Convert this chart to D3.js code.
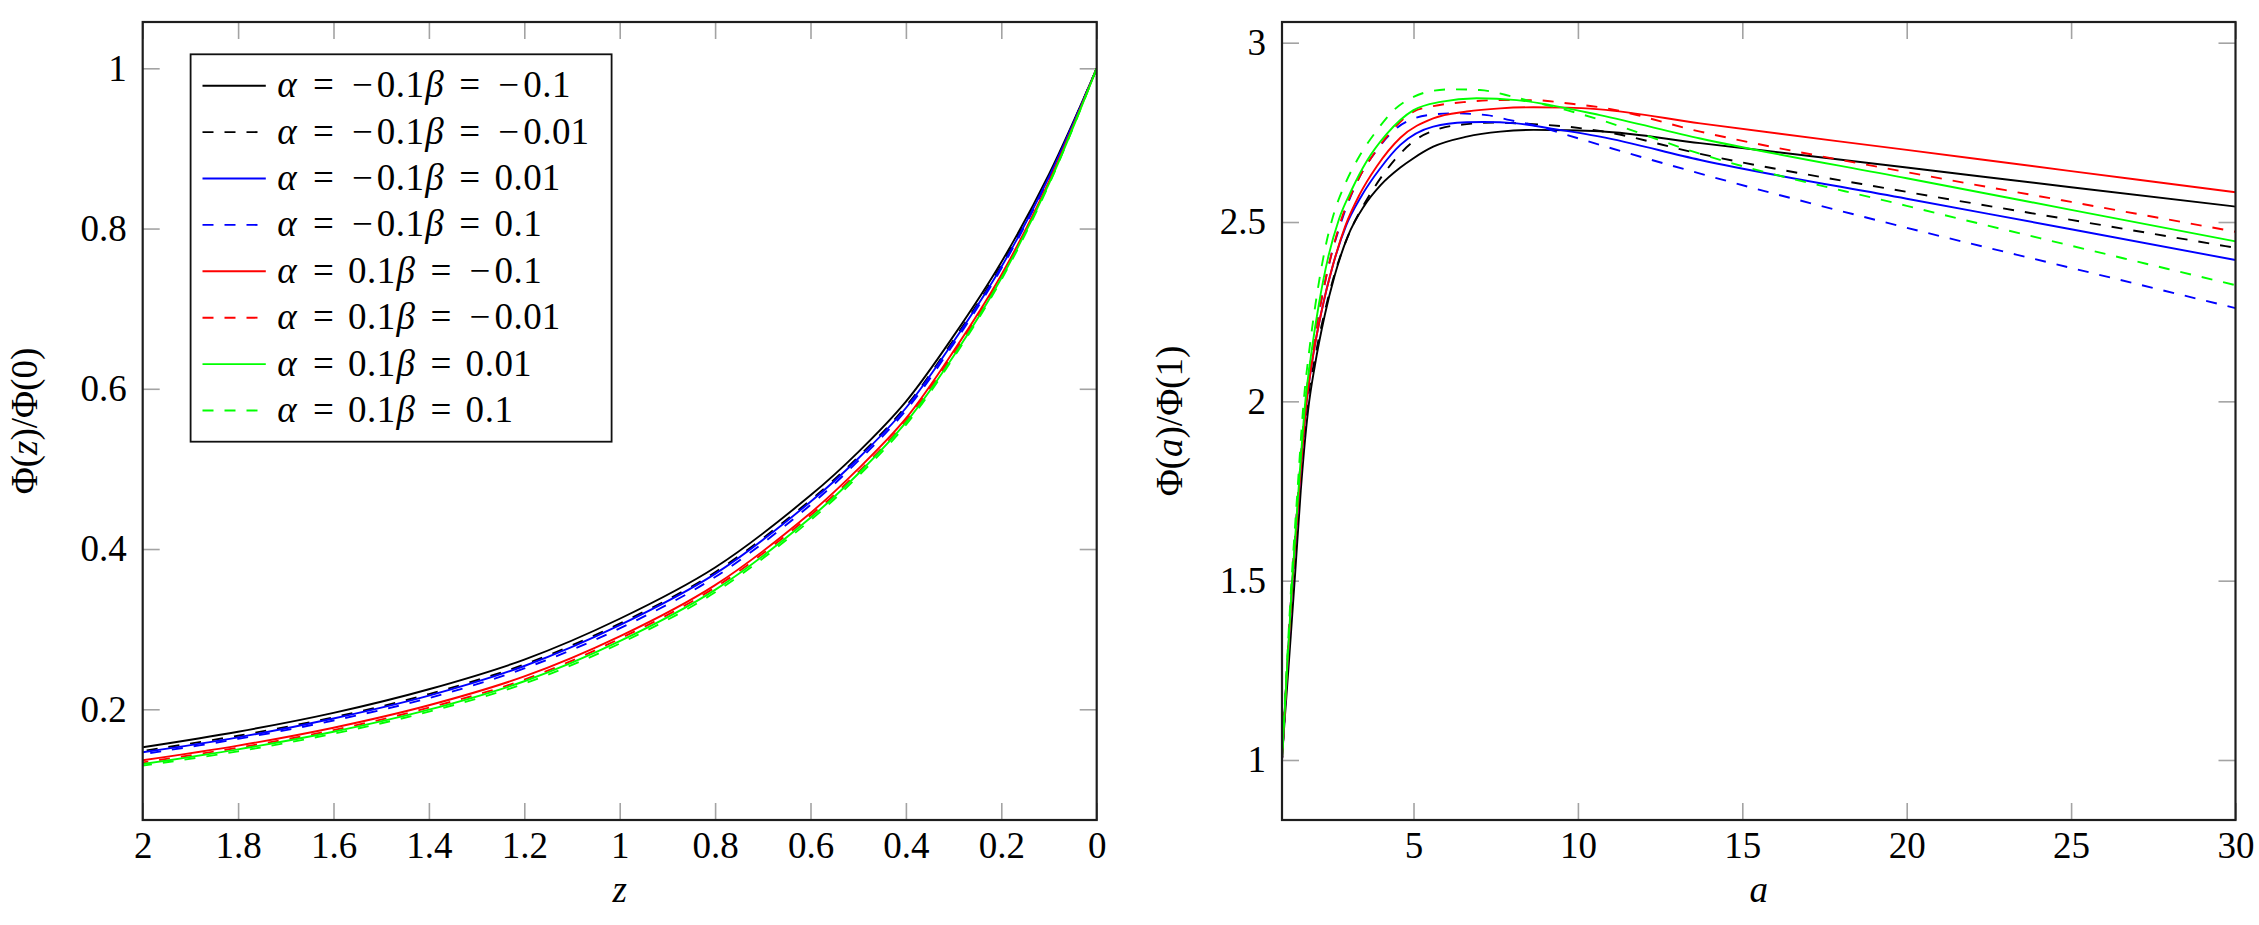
<!DOCTYPE html>
<html><head><meta charset="utf-8">
<script src="https://cdn.jsdelivr.net/npm/d3@7/dist/d3.min.js"></script>
<style>
body{margin:0;background:#fff}
</style>
</head><body>
<svg id="chart" width="2259" height="925"></svg>
<script>
// ---------------- DATA ----------------
// Left panel: Phi(z)/Phi(0)
const zValues      = [0, 0.1, 0.2, 0.3, 0.4, 0.5, 0.6, 0.8, 1.0, 1.2, 1.4, 1.6, 1.8, 2.0];
const zBlackSolid  = [1, 0.868, 0.758, 0.666, 0.584, 0.521, 0.467, 0.377, 0.313, 0.262, 0.225, 0.1955, 0.172, 0.1526];
const zBlackDashed = [1, 0.865, 0.754, 0.661, 0.578, 0.515, 0.461, 0.371, 0.307, 0.256, 0.219, 0.190, 0.167, 0.148];
const zBlueSolid   = [1, 0.8645, 0.752, 0.659, 0.576, 0.513, 0.459, 0.369, 0.305, 0.254, 0.217, 0.1885, 0.165, 0.1464];
const zBlueDashed  = [1, 0.863, 0.750, 0.656, 0.573, 0.510, 0.455, 0.365, 0.301, 0.251, 0.214, 0.186, 0.163, 0.144];
const zRedSolid    = [1, 0.859, 0.742, 0.647, 0.563, 0.500, 0.445, 0.355, 0.291, 0.241, 0.205, 0.177, 0.1546, 0.1363];
const zRedDashed   = [1, 0.857, 0.740, 0.644, 0.560, 0.496, 0.442, 0.352, 0.288, 0.237, 0.202, 0.174, 0.152, 0.1337];
const zGreenSolid  = [1, 0.856, 0.738, 0.641, 0.558, 0.494, 0.439, 0.349, 0.285, 0.235, 0.1995, 0.172, 0.150, 0.1317];
const zGreenDashed = [1, 0.855, 0.736, 0.639, 0.555, 0.491, 0.436, 0.346, 0.282, 0.232, 0.197, 0.1695, 0.1475, 0.1296];

// Right panel: Phi(a)/Phi(1), [a, value] pairs
const aBlackSolid  = [[0.95,0.92],[1,1],[1.2,1.26],[1.4,1.52],[1.57,1.75],[1.8,1.98],[2.0,2.1],[2.3,2.24],[2.6,2.35],[3.0,2.46],[3.5,2.545],[4.0,2.603],[4.6,2.652],[5.0,2.678],[5.6,2.71],[6.62,2.738],[7.64,2.752],[8.65,2.757],[9.66,2.756],[10.67,2.753],[13.72,2.72],[20,2.652],[25,2.597],[30,2.543]];
const aBlackDashed = [[0.95,0.92],[1,1],[1.16,1.25],[1.33,1.5],[1.54,1.75],[1.78,2.0],[2.0,2.12],[2.3,2.25],[2.65,2.37],[3.1,2.48],[3.5,2.55],[4.18,2.645],[5.0,2.725],[5.82,2.761],[6.62,2.773],[7.43,2.777],[8.65,2.773],[9.66,2.766],[10.67,2.754],[13.72,2.69],[20,2.584],[25,2.506],[30,2.428]];
const aBlueSolid   = [[0.95,0.92],[1,1],[1.155,1.25],[1.32,1.5],[1.52,1.75],[1.75,2.0],[1.95,2.13],[2.2,2.25],[2.55,2.38],[2.95,2.49],[3.4,2.57],[3.99,2.65],[4.6,2.715],[5.6,2.766],[6.62,2.778],[7.12,2.779],[8.14,2.775],[9.16,2.761],[10.67,2.738],[13.72,2.673],[20,2.565],[25,2.48],[30,2.394]];
const aBlueDashed  = [[0.95,0.92],[1,1],[1.15,1.25],[1.31,1.5],[1.5,1.75],[1.72,2.0],[1.92,2.14],[2.15,2.26],[2.45,2.39],[2.8,2.5],[3.3,2.615],[3.88,2.70],[4.5,2.763],[5.0,2.788],[5.61,2.80],[6.21,2.803],[7.23,2.798],[7.94,2.784],[8.65,2.77],[9.66,2.743],[10.67,2.715],[13.72,2.635],[20,2.484],[25,2.372],[30,2.26]];
const aRedSolid    = [[0.95,0.92],[1,1],[1.155,1.25],[1.32,1.5],[1.52,1.75],[1.75,2.0],[1.95,2.13],[2.2,2.25],[2.55,2.38],[2.93,2.49],[3.35,2.575],[3.88,2.655],[4.6,2.735],[5.6,2.789],[6.62,2.808],[7.64,2.817],[8.65,2.82],[9.66,2.819],[10.67,2.814],[13.72,2.775],[20,2.701],[25,2.642],[30,2.583]];
const aRedDashed   = [[0.95,0.92],[1,1],[1.15,1.25],[1.31,1.5],[1.5,1.75],[1.72,2.0],[1.92,2.14],[2.15,2.26],[2.45,2.39],[2.78,2.5],[3.3,2.615],[3.88,2.701],[4.4,2.761],[5.0,2.808],[5.6,2.823],[6.62,2.835],[7.64,2.84],[8.65,2.84],[9.66,2.831],[10.67,2.82],[13.72,2.752],[20,2.639],[25,2.556],[30,2.473]];
const aGreenSolid  = [[0.95,0.92],[1,1],[1.15,1.25],[1.31,1.5],[1.5,1.75],[1.71,2.0],[1.9,2.14],[2.12,2.27],[2.4,2.4],[2.74,2.51],[3.12,2.59],[3.58,2.67],[4.18,2.745],[5.0,2.812],[5.82,2.835],[6.92,2.845],[8.14,2.84],[9.16,2.826],[10.67,2.798],[13.72,2.733],[20,2.622],[25,2.534],[30,2.446]];
const aGreenDashed = [[0.95,0.91],[1,1],[1.14,1.25],[1.29,1.5],[1.47,1.75],[1.66,2.0],[1.84,2.15],[2.05,2.29],[2.32,2.43],[2.6,2.53],[2.89,2.6],[3.3,2.675],[3.88,2.755],[4.4,2.812],[5.0,2.849],[5.6,2.866],[6.21,2.87],[7.02,2.868],[8.04,2.849],[8.65,2.835],[9.66,2.812],[10.67,2.785],[13.72,2.69],[20,2.545],[25,2.434],[30,2.324]];

// Legend parameters
const alphaLabels = ["−0.1", "−0.1", "−0.1", "−0.1", "0.1", "0.1", "0.1", "0.1"];
const betaLabels  = ["−0.1", "−0.01", "0.01", "0.1", "−0.1", "−0.01", "0.01", "0.1"];

// Ticks
const leftXTicks  = [2, 1.8, 1.6, 1.4, 1.2, 1, 0.8, 0.6, 0.4, 0.2, 0];
const leftXLabels = ["2", "1.8", "1.6", "1.4", "1.2", "1", "0.8", "0.6", "0.4", "0.2", "0"];
const leftYTicks  = [0.2, 0.4, 0.6, 0.8, 1];
const leftYLabels = ["0.2", "0.4", "0.6", "0.8", "1"];
const rightXTicks  = [5, 10, 15, 20, 25, 30];
const rightXLabels = ["5", "10", "15", "20", "25", "30"];
const rightYTicks  = [1, 1.5, 2, 2.5, 3];
const rightYLabels = ["1", "1.5", "2", "2.5", "3"];

// ---------------- FONT PICK ----------------
function pickFont(cands) {
  const c = document.createElement("canvas").getContext("2d");
  const s = "abcdefghijklmnopqrstuvwxyz0123456789αβΦ";
  const widthOf = f => { c.font = "40px " + f; return c.measureText(s).width; };
  const base1 = widthOf("monospace"), base2 = widthOf("sans-serif");
  for (const f of cands) {
    const w1 = widthOf(`"${f}", monospace`), w2 = widthOf(`"${f}", sans-serif`);
    if (Math.abs(w1 - base1) > 0.5 || Math.abs(w2 - base2) > 0.5) {
      if (Math.abs(w1 - w2) < 0.5) return `"${f}"`;
    }
  }
  return "serif";
}
const FONT = pickFont(["Latin Modern Roman", "CMU Serif", "Liberation Serif", "DejaVu Serif", "Noto Serif", "Tinos", "Times New Roman", "FreeSerif"]) + ", serif";

// ---------------- STYLE / LAYOUT ----------------
const seriesStyle = [
  {color: "#000000", dash: null},
  {color: "#000000", dash: "11,11"},
  {color: "#0000ff", dash: null},
  {color: "#0000ff", dash: "11,11"},
  {color: "#ff0000", dash: null},
  {color: "#ff0000", dash: "11,11"},
  {color: "#00ff00", dash: null},
  {color: "#00ff00", dash: "11,11"}
];
const leftSeries  = [zBlackSolid, zBlackDashed, zBlueSolid, zBlueDashed, zRedSolid, zRedDashed, zGreenSolid, zGreenDashed];
const rightSeries = [aBlackSolid, aBlackDashed, aBlueSolid, aBlueDashed, aRedSolid, aRedDashed, aGreenSolid, aGreenDashed];

const FS = 37;
const TICK = 17;
const svg = d3.select("#chart");

const L = {x0: 142.7, x1: 1096.7, y0: 22, y1: 820};
const R = {x0: 1282, x1: 2235.5, y0: 22, y1: 820};

const xL = d3.scaleLinear().domain([2, 0]).range([L.x0, L.x1]);
const yL = d3.scaleLinear().domain([0.0618, 1.0578]).range([L.y1, L.y0]);
const xR = d3.scaleLinear().domain([1, 30]).range([R.x0, R.x1]);
const yR = d3.scaleLinear().domain([0.8327, 3.0577]).range([R.y1, R.y0]);

function styleAxis(g) {
  g.attr("font-family", FONT).attr("font-size", FS);
  g.select(".domain").remove();
  g.selectAll(".tick line").attr("stroke", "#a3a3a3").attr("stroke-width", 1.6);
  g.selectAll(".tick text").attr("fill", "#000").style("font-family", FONT).style("font-size", FS + "px");
}

function drawPanel(P, x, y, xt, xl, yt, yl, id) {
  const bottom = svg.append("g").attr("transform", `translate(0,${P.y1})`)
    .call(d3.axisBottom(x).tickValues(xt).tickFormat((d, i) => xl[i]).tickSize(-TICK).tickPadding(12));
  styleAxis(bottom);
  const top = svg.append("g").attr("transform", `translate(0,${P.y0})`)
    .call(d3.axisTop(x).tickValues(xt).tickFormat("").tickSize(-TICK));
  styleAxis(top);
  const left = svg.append("g").attr("transform", `translate(${P.x0},0)`)
    .call(d3.axisLeft(y).tickValues(yt).tickFormat((d, i) => yl[i]).tickSize(-TICK).tickPadding(16));
  styleAxis(left);
  const right = svg.append("g").attr("transform", `translate(${P.x1},0)`)
    .call(d3.axisRight(y).tickValues(yt).tickFormat("").tickSize(-TICK));
  styleAxis(right);
  svg.append("clipPath").attr("id", id).append("rect")
    .attr("x", P.x0).attr("y", P.y0).attr("width", P.x1 - P.x0).attr("height", P.y1 - P.y0);
}

drawPanel(L, xL, yL, leftXTicks, leftXLabels, leftYTicks, leftYLabels, "clipL");
drawPanel(R, xR, yR, rightXTicks, rightXLabels, rightYTicks, rightYLabels, "clipR");

// left curves
const lineL = d3.line().x(d => xL(d[0])).y(d => yL(d[1])).curve(d3.curveCatmullRom.alpha(0.5));
const gL = svg.append("g").attr("clip-path", "url(#clipL)");
leftSeries.forEach((vals, i) => {
  const pts = zValues.map((z, j) => [z, vals[j]]);
  gL.append("path").attr("d", lineL(pts)).attr("fill", "none")
    .attr("stroke", seriesStyle[i].color).attr("stroke-width", 1.9)
    .attr("stroke-dasharray", seriesStyle[i].dash);
});

// right curves
const lineR = d3.line().x(d => xR(d[0])).y(d => yR(d[1])).curve(d3.curveMonotoneX);
const gR = svg.append("g").attr("clip-path", "url(#clipR)");
rightSeries.forEach((pts, i) => {
  gR.append("path").attr("d", lineR(pts)).attr("fill", "none")
    .attr("stroke", seriesStyle[i].color).attr("stroke-width", 1.9)
    .attr("stroke-dasharray", seriesStyle[i].dash);
});

// frames
[L, R].forEach(P => {
  svg.append("rect").attr("x", P.x0).attr("y", P.y0).attr("width", P.x1 - P.x0).attr("height", P.y1 - P.y0)
    .attr("fill", "none").attr("stroke", "#1e1e1e").attr("stroke-width", 2.2);
});

function txt(parent) {
  return parent.append("text").style("font-family", FONT).style("font-size", FS + "px").attr("fill", "#000");
}

// axis labels
txt(svg).attr("x", (L.x0 + L.x1) / 2).attr("y", 902).attr("text-anchor", "middle")
  .style("font-style", "italic").text("z");
txt(svg).attr("x", (R.x0 + R.x1) / 2).attr("y", 902).attr("text-anchor", "middle")
  .style("font-style", "italic").text("a");

function yLabel(xb, cy, v, c) {
  const t = txt(svg).attr("transform", `translate(${xb},${cy}) rotate(-90)`).attr("text-anchor", "middle");
  t.append("tspan").text("Φ(");
  t.append("tspan").style("font-style", "italic").text(v);
  t.append("tspan").text(")/Φ(" + c + ")");
}
yLabel(37, (L.y0 + L.y1) / 2, "z", "0");
yLabel(1182, (R.y0 + R.y1) / 2, "a", "1");

// legend
const LG = {x: 190.6, y: 54.3, w: 421, h: 387.4, row0: 85.7, dy: 46.4, s0: 202.5, s1: 265.8, tx: 275};
const lg = svg.append("g");
lg.append("rect").attr("x", LG.x).attr("y", LG.y).attr("width", LG.w).attr("height", LG.h)
  .attr("fill", "#fff").attr("stroke", "#111").attr("stroke-width", 1.8);

// TeX-like token widths (em)
const W = {"α": 0.64, "β": 0.566, "=": 0.778, "−": 0.778, ".": 0.278, "d": 0.5, "rel": 0.278};
function layoutRow(yc, a, b) {
  const tokens = [];
  tokens.push({t: "α", w: W["α"], it: true});
  tokens.push({gap: W.rel});
  tokens.push({t: "=", w: W["="]});
  tokens.push({gap: W.rel});
  const num = s => { for (const ch of s) tokens.push({t: ch, w: ch === "−" ? W["−"] : ch === "." ? W["."] : W.d}); };
  num(a);
  tokens.push({t: "β", w: W["β"], it: true});
  tokens.push({gap: W.rel});
  tokens.push({t: "=", w: W["="]});
  tokens.push({gap: W.rel});
  num(b);
  let cx = LG.tx;
  tokens.forEach(tk => {
    if (tk.gap) { cx += tk.gap * FS; return; }
    txt(lg).attr("x", cx + tk.w * FS / 2).attr("y", yc + 11.5)
      .attr("text-anchor", "middle")
      .style("font-style", tk.it ? "italic" : "normal").text(tk.t);
    cx += tk.w * FS;
  });
}
alphaLabels.forEach((a, i) => {
  const yc = LG.row0 + i * LG.dy;
  lg.append("line").attr("x1", LG.s0).attr("x2", LG.s1).attr("y1", yc).attr("y2", yc)
    .attr("stroke", seriesStyle[i].color).attr("stroke-width", 1.9)
    .attr("stroke-dasharray", seriesStyle[i].dash);
  layoutRow(yc, a, betaLabels[i]);
});
</script>
</body></html>
